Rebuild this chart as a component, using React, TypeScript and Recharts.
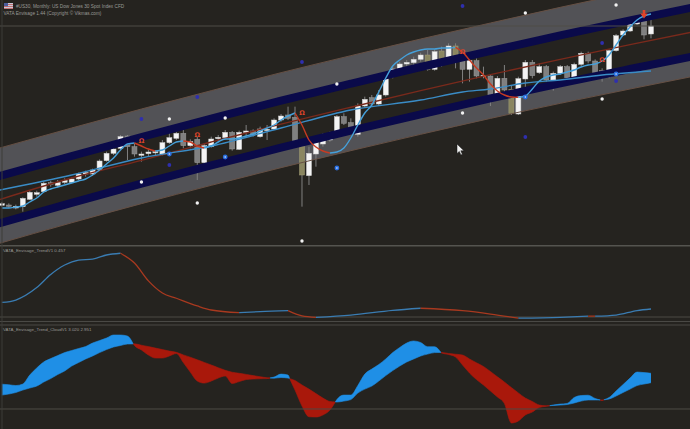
import React from 'react';
import { ComposedChart, Line, Area, Bar, Scatter, XAxis, YAxis, ReferenceLine } from 'recharts';

// ---------- main panel: monthly candles (US30) ----------
const candleOpen = [14600,14625,14400,14500,15050,15425,15625,16300,16100,16325,16325,16575,16950,16950,17300,17950,18500,18875,19800,19000,18350,18475,18550,18425,19300,19625,20000,19075,19550,17800,19000,19600,19675,20075,18800,20075,20175,19750,20200,20325,21000,21375,21200,19000,16825,18450,19200,19500,19950,21250,20800,19925,22050,22675,22200,22875,24250,24875,25200,25300,25550,25875,24800,26175,25300,26550,25550,24800,25450,24250,24300,22750,24125,23300,21450,24075,25325,24550,25000,24000,24500,25000,24175,25175,26000,25425,24700,24250,26200,27375,27675,28200,28700,27450];
const candleClose = [14725,14525,14525,15125,15575,15550,16250,16175,16325,16475,16575,16950,17050,17250,17925,18500,18825,19750,19000,18450,18450,18600,18625,19300,19675,20000,19075,19375,17800,19075,19575,19700,20075,18825,20075,20175,19875,20325,20300,21000,21300,21125,19450,16875,18500,19325,19500,19950,21250,20750,20000,22050,22550,22200,22875,24250,24825,25200,25325,25550,25875,24800,26125,25325,26550,25550,24800,25450,24300,24350,22750,24125,23250,21500,24100,25325,24325,25000,24000,24500,25000,24175,25175,26000,25425,24550,24250,26200,27325,27675,28200,28750,27375,28050];
const candleHigh = [14850,14750,14650,15200,15675,15700,16375,16425,16500,16625,16675,17050,17200,17350,18050,18625,18925,19875,19875,19250,18625,18750,18750,19500,20000,20125,20300,19550,19750,19250,19750,19875,20250,20175,20200,20625,20300,20500,20625,21125,21450,22000,22000,19500,19000,19500,20000,20125,21375,21500,21125,22250,22750,22875,23250,24375,25000,25375,25500,25750,26050,26250,26300,26500,26750,26750,25750,25625,25625,25000,24375,24300,25125,23625,24250,25500,25500,25250,25125,24625,25125,25125,25300,26125,26125,25550,24875,26300,27450,27800,28375,28875,29050,28875];
const candleLow = [14500,14425,14300,14125,15000,15250,15550,16000,15950,16200,16250,16500,16750,16800,17250,17875,18375,18800,18000,18250,17875,18250,18350,18350,19200,19500,18875,18875,16500,17500,18925,19375,19550,18700,18750,19750,19750,19675,19500,20250,20875,21000,19250,14500,16125,17500,19000,19375,19875,20625,19875,19750,21950,22000,22050,22750,24125,24375,25000,25125,25375,24700,24700,25000,25200,24875,23750,23875,24125,24125,22050,22500,23000,21375,21375,23450,24125,24450,23875,23200,24375,24050,24050,25050,25250,24450,23875,24125,26125,27300,27600,28125,27050,27125];
const khakiBars = [43, 61, 63, 65, 73];

// envelope bands (sampled along the bar index)
const bandIdx = [-1, 10, 20, 30, 40, 50, 60, 70, 80, 90, 100];
const upperOuter = [18800,20400,21825,23200,24550,25825,27075,28275,29450,30575,31650];
const upperInner = [16700,18300,19725,21100,22450,23725,24975,26175,27350,28475,29550];
const lowerInner = [13150,14790,16225,17600,18925,20200,21425,22620,23750,24825,25875];
const lowerOuter = [11650,13290,14725,16100,17425,18700,19925,21120,22250,23325,24375];
const midLine = [14925,16650,17975,19350,20690,21960,23200,24400,25550,26650,27710];

const slowIdx = [-1, 10, 20, 30, 40, 50, 60, 66, 70, 75, 80, 86, 93];
const slowVal = [15675,16875,18150,19050,20400,21750,22500,23100,23325,23775,24000,24375,24675];

const fastVal = [14400,14400,14475,14550,14850,15150,15600,15825,15975,16125,16275,16425,16575,16875,17250,17700,18150,18750,19200,19275,19050,18825,18675,18750,19050,19350,19425,19350,19050,18900,19050,19350,19575,19575,19650,19800,19950,20175,20400,20625,21000,21300,21525,20625,19500,18975,18675,18525,18600,18900,19650,20625,21525,22125,23100,24150,25050,25500,25875,26100,26250,26325,26325,26400,26400,26450,26100,25500,24900,24375,23700,23175,22875,22725,22700,22800,23325,23925,24225,24375,24450,24600,24750,24975,25125,25200,25425,25875,26625,27375,27975,28500,28800,28950];

const whiteDotIdx = [20, 24, 28, 32, 43, 48, 66, 75, 86, 88];
const whiteDotVal = [16350,21075,14775,21150,11925,23700,21525,29025,22575,29625];
const blueDotIdx = [20, 24, 28, 43, 66, 75, 86, 88];
const blueDotVal = [21075,17625,22725,25350,29550,19725,26775,23925];
const blueSignIdx = [24, 32, 48, 75, 88];
const blueSignVal = [18450,18225,17400,22725,24450];
const redSignIdx = [20, 28, 43, 66, 86];
const redSignVal = [19425,19875,21525,26100,25500];
const redArrowIdx = [92];
const redArrowVal = [28875];
const levelLine = 28050;

// ---------- panel 2: TrendV1 ----------
const trendIdx = [0,2,5,7,9,11,13,15,17,19,21,23,25,28,30,34,37,41,43,45,50,56,60,66,70,74,80,84,85,88,91,93];
const trendVal = [0.83,0.97,1.68,2.43,2.97,3.25,3.31,3.54,3.64,3.08,2.06,1.37,1.07,0.63,0.40,0.25,0.31,0.36,0.06,-0.02,0.11,0.38,0.50,0.36,0.17,-0.07,-0.02,0.05,0.045,0.11,0.37,0.457];

// ---------- panel 3: Trend Cloud ----------
const cloudFast = [2.940,2.936,2.930,2.941,3.007,3.059,3.103,3.128,3.150,3.172,3.187,3.202,3.216,3.242,3.260,3.279,3.301,3.301,3.293,3.224,3.191,3.154,3.132,3.132,3.147,3.165,3.099,3.029,2.963,2.948,2.963,2.985,3.000,2.945,2.959,2.974,2.978,2.980,2.981,2.992,3.014,3.007,2.897,2.780,2.701,2.699,2.714,2.750,2.827,2.860,2.860,2.930,3.014,3.051,3.084,3.125,3.172,3.209,3.242,3.257,3.246,3.215,3.215,3.169,3.158,3.139,3.081,3.022,2.974,2.934,2.890,2.846,2.798,2.655,2.670,2.714,2.736,2.769,2.778,2.787,2.794,2.799,2.842,2.857,2.859,2.835,2.820,2.842,2.890,2.937,2.985,3.029,3.025,3.020];
const cloudSlow = [2.860,2.868,2.879,2.897,2.912,2.926,2.956,2.981,3.011,3.037,3.073,3.099,3.125,3.147,3.172,3.194,3.213,3.224,3.235,3.236,3.226,3.216,3.205,3.194,3.183,3.174,3.155,3.138,3.119,3.100,3.081,3.061,3.042,3.028,3.020,3.012,3.003,2.995,2.987,2.984,2.989,2.985,2.967,2.934,2.904,2.871,2.838,2.813,2.809,2.816,2.827,2.875,2.904,2.926,2.963,3.003,3.040,3.073,3.103,3.125,3.147,3.161,3.172,3.173,3.165,3.160,3.154,3.125,3.097,3.070,3.033,2.994,2.956,2.915,2.876,2.838,2.813,2.787,2.781,2.784,2.787,2.791,2.802,2.816,2.824,2.824,2.824,2.831,2.853,2.879,2.904,2.930,2.941,2.951];
const cloudLevel = 2.758;

// ---------- layout / style ----------
const W = 690;
const BG = '#25231f';
const X_DOMAIN: [number, number] = [-0.264, 98.59];
const MAIN_H = 245;
const P2_TOP = 247, P2_H = 73;
const P3_TOP = 325, P3_H = 104;
const MAIN_DOMAIN: [number, number] = [11625, 30000];
const P2_DOMAIN: [number, number] = [-0.1713, 3.997];
const P3_DOMAIN: [number, number] = [2.6111, 3.3745];
const M = { top: 0, right: 0, bottom: 0, left: 0 };

// ---------- derived rows ----------
const candles = candleOpen.map((o, i) => ({
  i, open: o, close: candleClose[i], high: candleHigh[i], low: candleLow[i],
  khaki: khakiBars.includes(i), hl: [candleLow[i], candleHigh[i]],
}));
const bandRows = bandIdx.map((i, j) => ({
  i,
  upBand: [upperInner[j], upperOuter[j]],
  loBand: [lowerOuter[j], lowerInner[j]],
  upIn: upperInner[j], upOut: upperOuter[j], loIn: lowerInner[j], loOut: lowerOuter[j], mid: midLine[j],
}));
const slowRows = slowIdx.map((i, j) => ({ i, v: slowVal[j] }));
const pts = (idx: number[], vals: number[]) => idx.map((i, j) => ({ i, p: vals[j] }));

type Pt = { i: number; v: number };
function slopeRuns(idx: number[], vals: number[]) {
  const runs: { up: boolean; data: Pt[] }[] = [];
  for (let j = 1; j < vals.length; j++) {
    const up = vals[j] >= vals[j - 1];
    const prev = { i: idx[j - 1], v: vals[j - 1] };
    const cur = { i: idx[j], v: vals[j] };
    const last = runs[runs.length - 1];
    if (last && last.up === up) last.data.push(cur);
    else runs.push({ up, data: [prev, cur] });
  }
  return runs;
}
type RPt = { i: number; r: [number, number] };
function cloudRuns(fast: number[], slow: number[]) {
  const runs: { up: boolean; data: RPt[] }[] = [];
  let cur: { up: boolean; data: RPt[] } | null = null;
  for (let j = 0; j < fast.length; j++) {
    const up = fast[j] >= slow[j];
    const pt: RPt = { i: j, r: [Math.min(fast[j], slow[j]), Math.max(fast[j], slow[j])] };
    if (!cur) { cur = { up, data: [pt] }; continue; }
    if (cur.up === up) { cur.data.push(pt); continue; }
    const d0 = fast[j - 1] - slow[j - 1];
    const d1 = fast[j] - slow[j];
    const t = d0 / (d0 - d1);
    const vi = fast[j - 1] + t * (fast[j] - fast[j - 1]);
    const cp: RPt = { i: j - 1 + t, r: [vi, vi] };
    cur.data.push(cp);
    runs.push(cur);
    cur = { up, data: [cp, pt] };
  }
  if (cur) runs.push(cur);
  return runs;
}

const fastIdx = fastVal.map((_, i) => i);
const fastRuns = slopeRuns(fastIdx, fastVal);
const trendRuns = slopeRuns(trendIdx, trendVal);
const cRuns = cloudRuns(cloudFast, cloudSlow);

function Candle(props: any) {
  const { x, y, width, height } = props;
  const d = props.payload ?? candles[props.index];
  if (d == null || x == null || y == null || height == null) return null;
  const top = Math.min(y, y + height);
  const h = Math.abs(height);
  const k = h / (d.high - d.low);
  const bTop = top + (d.high - Math.max(d.open, d.close)) * k;
  const bBot = top + (d.high - Math.min(d.open, d.close)) * k;
  const cx = x + width / 2;
  const up = d.close >= d.open;
  const fill = d.khaki ? '#8a8660' : up ? '#f4f4f4' : '#808080';
  const stroke = d.khaki ? '#a29d74' : up ? '#cfcfcf' : '#999999';
  return (
    <g>
      <line x1={cx} x2={cx} y1={top} y2={top + h} stroke="#808080" strokeWidth={1} />
      <rect x={cx - 2.5} y={bTop} width={5} height={Math.max(1.2, bBot - bTop)} fill={fill} stroke={stroke} strokeWidth={0.5} />
    </g>
  );
}

const axes = (domain: [number, number]) => [
  <XAxis key="x" type="number" dataKey="i" domain={X_DOMAIN} allowDataOverflow hide />,
  <YAxis key="y" type="number" domain={domain} allowDataOverflow hide />,
];

function MainPanel() {
  return (
    <ComposedChart width={W} height={MAIN_H} data={candles} margin={M}>
      {axes(MAIN_DOMAIN)}
      <Area data={bandRows} dataKey="upBand" type="monotone" fill="#525256" fillOpacity={1} stroke="none" isAnimationActive={false} />
      <Area data={bandRows} dataKey="loBand" type="monotone" fill="#525256" fillOpacity={1} stroke="none" isAnimationActive={false} />
      <Line data={bandRows} dataKey="upOut" type="monotone" stroke="#665044" strokeWidth={1} dot={false} isAnimationActive={false} />
      <Line data={bandRows} dataKey="loOut" type="monotone" stroke="#665044" strokeWidth={1} dot={false} isAnimationActive={false} />
      <Line data={bandRows} dataKey="upIn" type="monotone" stroke="#0a0a4a" strokeWidth={8} dot={false} isAnimationActive={false} />
      <Line data={bandRows} dataKey="loIn" type="monotone" stroke="#0a0a4a" strokeWidth={8} dot={false} isAnimationActive={false} />
      <ReferenceLine y={levelLine} stroke="#4e4c47" strokeWidth={1} />
      <Bar dataKey="hl" barSize={5} isAnimationActive={false} shape={(p: any) => <Candle {...p} />} />
      <Line data={bandRows} dataKey="mid" type="monotone" stroke="#7a2a1c" strokeWidth={1.4} dot={false} isAnimationActive={false} />
      <Line data={slowRows} dataKey="v" type="monotone" stroke="#3a8cc6" strokeWidth={1.3} dot={false} isAnimationActive={false} />
      {fastRuns.map((r, k) => (
        <Line key={'f' + k} data={r.data} dataKey="v" type="monotone" stroke={r.up ? '#45a0da' : '#c63b22'} strokeWidth={1.4} dot={false} isAnimationActive={false} />
      ))}
      <Scatter data={pts(whiteDotIdx, whiteDotVal)} dataKey="p" isAnimationActive={false}
        shape={(p: any) => <circle cx={p.cx} cy={p.cy} r={1.7} fill="#f2f2f2" />} />
      <Scatter data={pts(blueDotIdx, blueDotVal)} dataKey="p" isAnimationActive={false}
        shape={(p: any) => <circle cx={p.cx} cy={p.cy} r={1.9} fill="#2f2fae" />} />
      <Scatter data={pts(blueSignIdx, blueSignVal)} dataKey="p" isAnimationActive={false}
        shape={(p: any) => (
          <g>
            <circle cx={p.cx} cy={p.cy} r={2.4} fill="#2a6fe0" />
            <circle cx={p.cx} cy={p.cy} r={0.8} fill="#dfe8ff" />
          </g>
        )} />
      <Scatter data={pts(redSignIdx, redSignVal)} dataKey="p" isAnimationActive={false}
        shape={(p: any) => <text x={p.cx} y={p.cy + 2.2} fontSize={6.5} fontWeight="bold" fontFamily="DejaVu Sans" textAnchor="middle" fill="#d9442a">Ω</text>} />
      <Scatter data={pts(redArrowIdx, redArrowVal)} dataKey="p" isAnimationActive={false}
        shape={(p: any) => (
          <path d={`M${p.cx - 1.3},${p.cy - 5} h2.6 v3.5 h2.4 l-3.7,5 l-3.7,-5 h2.4 z`} fill="#e0442a" />
        )} />
    </ComposedChart>
  );
}

function TrendPanel() {
  return (
    <ComposedChart width={W} height={P2_H} margin={M}>
      {axes(P2_DOMAIN)}
      <ReferenceLine y={0} stroke="#4d4a44" strokeWidth={1} />
      {trendRuns.map((r, k) => (
        <Line key={'t' + k} data={r.data} dataKey="v" type="monotone" stroke={r.up ? '#3a7cb2' : '#a8391f'} strokeWidth={1.3} dot={false} isAnimationActive={false} />
      ))}
    </ComposedChart>
  );
}

function CloudPanel() {
  return (
    <ComposedChart width={W} height={P3_H} margin={M}>
      {axes(P3_DOMAIN)}
      <ReferenceLine y={cloudLevel} stroke="#4d4a44" strokeWidth={1} />
      {cRuns.map((r, k) => (
        <Area key={'c' + k} data={r.data} dataKey="r" type="monotone" fill={r.up ? '#1f8fe6' : '#a9180b'} fillOpacity={1}
          stroke={r.up ? '#1f8fe6' : '#a9180b'} strokeWidth={0.6} isAnimationActive={false} />
      ))}
    </ComposedChart>
  );
}

export default function App() {
  const label = { fontFamily: 'Liberation Sans, Arial, sans-serif', fill: '#9a9a96' } as const;
  return (
    <div style={{ position: 'absolute', left: 0, top: 0, width: W, height: 429, background: BG, overflow: 'hidden' }}>
      <div style={{ position: 'absolute', left: 0, top: 0 }}><MainPanel /></div>
      <div style={{ position: 'absolute', left: 0, top: P2_TOP }}><TrendPanel /></div>
      <div style={{ position: 'absolute', left: 0, top: P3_TOP }}><CloudPanel /></div>
      <svg width={W} height={429} style={{ position: 'absolute', left: 0, top: 0, pointerEvents: 'none' }}>
        <rect x={0} y={245} width={W} height={1.5} fill="#55544f" />
        <rect x={0} y={321} width={W} height={1} fill="#4a4945" />
        <rect x={0} y={324.5} width={W} height={1} fill="#4a4945" />
        <rect x={1.5} y={0} width={1} height={429} fill="#3d3c38" />
        <g>
          <rect x={4} y={3} width={9} height={6} fill="#c9c9d6" />
          <rect x={4} y={3} width={4} height={3.5} fill="#4a5c9c" />
          <rect x={8} y={4} width={5} height={0.8} fill="#c05a5a" />
          <rect x={4} y={6.2} width={9} height={0.8} fill="#c05a5a" />
          <rect x={4} y={8.2} width={9} height={0.8} fill="#c05a5a" />
        </g>
        <text x={16} y={7.8} fontSize={4.7} {...label}>#US30, Monthly:  US Dow Jones 30 Spot Index CFD</text>
        <text x={3.5} y={15.3} fontSize={4.7} {...label}>VATA Envisage 1.44 (Copyright © Vikmas.com)</text>
        <text x={3} y={252} fontSize={4.4} {...label}>VATA_Envisage_TrendV1 0.457</text>
        <text x={3} y={331} fontSize={4.4} {...label}>VATA_Envisage_Trend_CloudV1 3.020 2.951</text>
        <path d="M457,144 L457,153.5 L459.3,151.4 L460.9,155 L462.4,154.3 L460.8,150.8 L464,150.8 Z" fill="#f2f2f2" stroke="#111" strokeWidth={0.5} />
      </svg>
    </div>
  );
}
